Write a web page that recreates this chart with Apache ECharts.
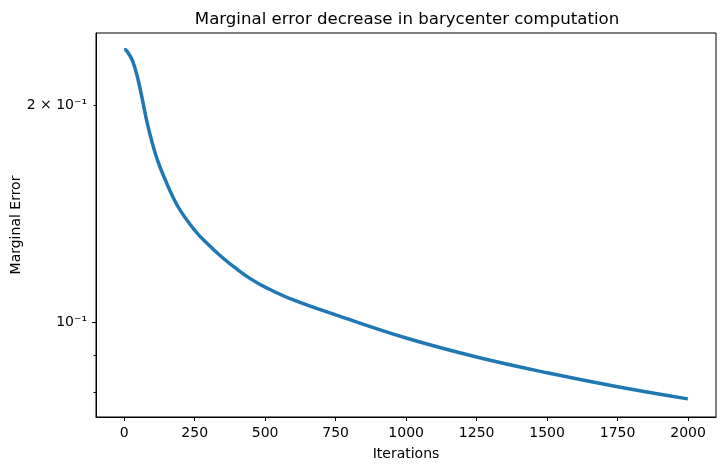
<!DOCTYPE html>
<html>
<head>
<meta charset="utf-8">
<script src="https://cdn.jsdelivr.net/npm/echarts@6/dist/echarts.min.js"></script>
<style>
    html, body { margin: 0; padding: 0; background: #fff; }
    #chart { width: 726px; height: 470px; }
</style>
</head>
<body>
<div id="chart"></div>
<script>
// Data
var iterations = [0, 5, 12, 29, 47, 65, 82, 100, 118, 141, 190, 250, 300, 350, 400, 450, 500, 600, 750, 1000, 1250, 1500, 1750, 1999];
var marginalError = [0.2391, 0.2389, 0.2371, 0.2309, 0.2189, 0.2032, 0.1887, 0.1770, 0.1678, 0.1591, 0.1448, 0.1341, 0.1279, 0.1227, 0.1184, 0.1147, 0.1118, 0.1073, 0.1023, 0.0950, 0.0894, 0.0850, 0.0813, 0.0782];
var xTicks = [0, 250, 500, 750, 1000, 1250, 1500, 1750, 2000];
var yLabelTicks = [0.1, 0.2];
var yMajorTicks = [0.1];
var yMinorTicks = [0.08, 0.09, 0.2];

var chart = echarts.init(document.getElementById('chart'));

var font = 'DejaVu Sans, sans-serif';

chart.setOption({

    animation: false,

    textStyle: {
        fontFamily: font,
        color: '#000'
    },

    // Title centred over the plot area
    title: {
        text: 'Marginal error decrease in barycenter computation',
        left: 402,
        top: 6,
        textAlign: 'center',
        textStyle: {
            fontFamily: font,
            fontSize: 16.6,
            fontWeight: 'normal',
            color: '#000'
        }
    },

    grid: {
        left: 96,
        right: 10,
        top: 33,
        bottom: 53,
        containLabel: false,
        outerBoundsMode: 'none',
        show: true,
        borderColor: '#000',
        borderWidth: 1,
        backgroundColor: 'transparent'
    },

    xAxis: {
        type: 'value',
        min: -100,
        max: 2099,
        name: 'Iterations',
        nameLocation: 'middle',
        nameGap: 30,
        nameMoveOverlap: false,
        nameTextStyle: { fontFamily: font, fontSize: 14, color: '#000' },
        axisLine: { show: true, onZero: false, lineStyle: { color: '#000', width: 1 } },
        axisTick: {
            show: true,
            length: 4,
            customValues: xTicks,
            lineStyle: { color: '#000' }
        },
        axisLabel: {
            customValues: xTicks,
            margin: 9,
            fontFamily: font,
            fontSize: 14,
            color: '#000',
            formatter: function (v) { return String(v); }
        },
        splitLine: { show: false }
    },

    yAxis: [{
        type: 'log',
        logBase: 10,
        min: 0.0738,
        max: 0.252,
        name: 'Marginal Error',
        nameLocation: 'middle',
        nameGap: 73,
        nameMoveOverlap: false,
        nameTextStyle: { fontFamily: font, fontSize: 14, color: '#000' },
        axisLine: { show: true, onZero: false, lineStyle: { color: '#000', width: 1 } },
        axisTick: {
            show: true,
            length: 4,
            customValues: yMajorTicks,
            lineStyle: { color: '#000' }
        },
        axisLabel: {
            customValues: yLabelTicks,
            margin: 9,
            fontFamily: font,
            fontSize: 14,
            color: '#000',
            formatter: function (v) {
                if (Math.abs(v - 0.1) < 1e-9) return '10\u207B\u00B9';
                if (Math.abs(v - 0.2) < 1e-9) return '2 \u00D7 10\u207B\u00B9';
                return '';
            }
        },
        splitLine: { show: false }
    }, {
        // minor ticks only
        type: 'log',
        logBase: 10,
        min: 0.0738,
        max: 0.252,
        position: 'left',
        axisLine: { show: false, onZero: false },
        axisTick: {
            show: true,
            length: 2.5,
            customValues: yMinorTicks,
            lineStyle: { color: '#000' }
        },
        axisLabel: { show: false },
        splitLine: { show: false }
    }],

    series: [{
        type: 'line',
        yAxisIndex: 0,
        showSymbol: false,
        smooth: 0.4,
        lineStyle: { color: '#1f77b4', width: 3.5 },
        itemStyle: { color: '#1f77b4' },
        data: iterations.map(function (it, i) { return [it, marginalError[i]]; })
    }]
});
</script>
</body>
</html>
